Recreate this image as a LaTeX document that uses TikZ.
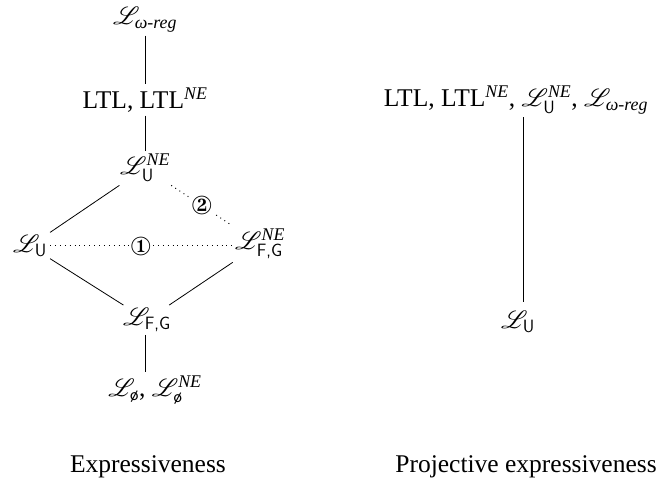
\documentclass[tikz,border=0pt]{standalone}
\usepackage{amsmath}
\usepackage{mathrsfs}
\usepackage{pifont}
\usepackage{fontspec}
\setmainfont{Liberation Serif}
\newcommand{\Lang}{\mathscr{L}}
\newcommand{\ssub}[1]{\text{\sffamily #1}}
\newcommand{\NEsup}{\text{\itshape NE}}
\newcommand{\wreg}{\text{\itshape ω-reg}}
\tikzset{
  lab/.style={font=\fontsize{25.5}{29}\selectfont, inner sep=3pt},
  circnum/.style={font=\fontsize{26}{28}\selectfont, fill=white, inner sep=1.5pt},
  conn/.style={line width=0.8pt},
  dotconn/.style={line width=1pt, dash pattern=on 0.9pt off 4pt},
}
\begin{document}
\begin{tikzpicture}[x=1pt,y=-1pt]
\useasboundingbox (0,0) rectangle (664,489);
% left lattice
\node[lab] (Lw)    at (145,20)  {$\Lang_{\wreg}$};
\node[lab] (LTL)   at (145,100) {LTL, LTL$^{\NEsup}$};
\node[lab] (LUNE)  at (145,168) {$\Lang^{\NEsup}_{\ssub{U}}$};
\node[lab] (LU)    at (30,246)  {$\Lang_{\ssub{U}}$};
\node[lab] (LFGNE) at (260,244) {$\Lang^{\NEsup}_{\ssub{F,G}}$};
\node[lab] (LFG)   at (147,320) {$\Lang_{\ssub{F,G}}$};
\node[lab] (Lemp)  at (155,390) {$\Lang_{\ssub{ø}}$, $\Lang^{\NEsup}_{\ssub{ø}}$};
\node[lab] (cap1)  at (148,467) {Expressiveness};
\draw[conn] (Lw.south -| LTL) -- (LTL.north);
\draw[conn] (LTL.south) -- (LTL.south |- LUNE.north);
\draw[conn] (LUNE) -- (LU);
\draw[dotconn] (LUNE) -- node[circnum]{\ding{173}} (LFGNE);
\draw[dotconn] (LU) -- node[circnum]{\ding{172}} (LFGNE.west |- LU);
\draw[conn] (LU) -- (LFG);
\draw[conn] (LFGNE) -- (LFG);
\draw[conn] (LFG.south -| LTL) -- (Lemp.north -| LTL);
% right
\node[lab] (Rtop) at (516,100) {LTL, LTL$^{\NEsup}$, $\Lang^{\NEsup}_{\ssub{U}}$, $\Lang_{\wreg}$};
\node[lab] (RU)   at (518,322) {$\Lang_{\ssub{U}}$};
\node[lab] (cap2) at (526,467) {Projective expressiveness};
\draw[conn, shorten >=6pt] (Rtop.south -| 523,0) -- (RU.north -| 523,0);
\end{tikzpicture}
\end{document}
